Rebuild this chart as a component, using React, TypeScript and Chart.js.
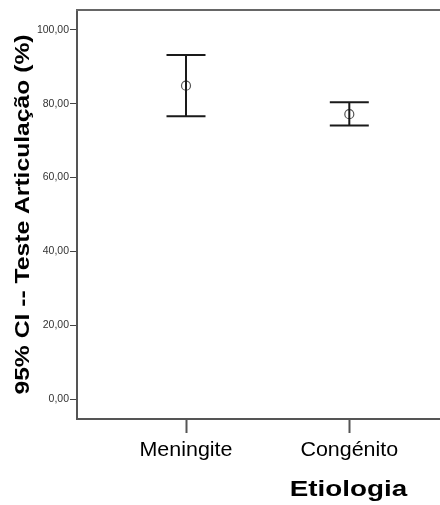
import React, { useEffect, useRef } from "react";
import { Chart, registerables } from "chart.js";

Chart.register(...registerables);

const categories = ["Meningite", "Congénito"];
const means = [84.9, 77.2];
const lowerCI = [76.6, 74.1];
const upperCI = [93.2, 80.4];
const yTicks = [0, 20, 40, 60, 80, 100];
const yTitle = "95% CI -- Teste Articulação (%)";
const xTitle = "Etiologia";

const FONT = "'Liberation Sans', Arial, sans-serif";

function drawStretched(
  ctx: CanvasRenderingContext2D,
  text: string,
  x: number,
  y: number,
  font: string,
  sx: number,
  rotate = 0,
  baseline: CanvasTextBaseline = "alphabetic"
) {
  ctx.save();
  ctx.translate(x, y);
  if (rotate) ctx.rotate(rotate);
  ctx.scale(sx, 1);
  ctx.font = font;
  ctx.textAlign = "center";
  ctx.textBaseline = baseline;
  ctx.fillText(text, 0, 0);
  ctx.restore();
}

const errorBarPlugin = {
  id: "errorBars",
  afterDatasetsDraw(chart: any) {
    const { ctx, scales } = chart;
    const xs = scales.x;
    const ys = scales.y;
    ctx.save();
    ctx.strokeStyle = "#1a1a1a";
    ctx.lineWidth = 2;
    categories.forEach((_, i) => {
      const px = xs.getPixelForValue(i);
      const yu = ys.getPixelForValue(upperCI[i]);
      const yl = ys.getPixelForValue(lowerCI[i]);
      const half = 19.5;
      ctx.beginPath();
      ctx.moveTo(px, yu);
      ctx.lineTo(px, yl);
      ctx.moveTo(px - half, yu);
      ctx.lineTo(px + half, yu);
      ctx.moveTo(px - half, yl);
      ctx.lineTo(px + half, yl);
      ctx.stroke();
    });
    ctx.restore();
  },
};

const framePlugin = {
  id: "frameAndTitles",
  afterDraw(chart: any) {
    const { ctx, chartArea, scales } = chart;
    ctx.save();
    ctx.strokeStyle = "#666";
    ctx.lineWidth = 2;
    ctx.beginPath();
    ctx.moveTo(chartArea.left - 1, chartArea.top);
    ctx.lineTo(chartArea.right, chartArea.top);
    ctx.stroke();

    ctx.fillStyle = "#000";
    categories.forEach((c, i) => {
      const px = scales.x.getPixelForValue(i);
      drawStretched(ctx, c, px, 456, `19.5px ${FONT}`, 1.1);
    });
    drawStretched(
      ctx,
      yTitle,
      23,
      (chartArea.top + chartArea.bottom) / 2,
      `bold 21px ${FONT}`,
      1.175,
      -Math.PI / 2,
      "middle"
    );
    drawStretched(ctx, xTitle, 348.5, 496, `bold 21.4px ${FONT}`, 1.3);
    ctx.restore();
  },
};

export default function App() {
  const ref = useRef<HTMLCanvasElement>(null);

  useEffect(() => {
    if (!ref.current) return;
    const chart = new Chart(ref.current, {
      type: "scatter",
      data: {
        datasets: [
          {
            data: means.map((m, i) => ({ x: i, y: m })),
            pointRadius: 4.5,
            pointHoverRadius: 4.5,
            pointBorderColor: "#555",
            pointBackgroundColor: "rgba(255,255,255,0)",
            pointBorderWidth: 1.2,
          },
        ],
      },
      options: {
        responsive: false,
        animation: false,
        layout: { autoPadding: false, padding: { top: 10, right: 0, left: 0, bottom: 0 } },
        plugins: {
          legend: { display: false },
          tooltip: { enabled: false },
        },
        scales: {
          x: {
            type: "linear",
            min: -0.6675,
            max: 1.5554,
            afterFit: (s: any) => {
              s.height = 86;
              s.paddingLeft = 0;
              s.paddingRight = 0;
            },
            afterBuildTicks: (s: any) => {
              s.ticks = categories.map((_, i) => ({ value: i }));
            },
            ticks: {
              display: false,
              autoSkip: false,
            },
            grid: {
              drawOnChartArea: false,
              drawTicks: true,
              tickLength: 14,
              tickColor: "#555",
              tickWidth: 2,
            },
            border: { display: true, color: "#555", width: 2 },
          },
          y: {
            min: -5.42,
            max: 105.42,
            afterFit: (s: any) => {
              s.width = 77;
              s.paddingTop = 0;
              s.paddingBottom = 0;
            },
            afterBuildTicks: (s: any) => {
              s.ticks = yTicks.map((v) => ({ value: v }));
            },
            ticks: {
              callback: (v: any) => Number(v).toFixed(2).replace(".", ","),
              color: "#333",
              font: { family: FONT, size: 10.5 },
              padding: 1,
            },
            grid: {
              drawOnChartArea: false,
              drawTicks: true,
              tickLength: 7,
              tickColor: "#444",
              tickWidth: 1,
            },
            border: { display: true, color: "#555", width: 2 },
          },
        },
      },
      plugins: [errorBarPlugin, framePlugin],
    });
    return () => chart.destroy();
  }, []);

  return (
    <div style={{ position: "absolute", left: 0, top: 0, width: 440, height: 505, background: "#fff" }}>
      <canvas ref={ref} width={440} height={505} style={{ display: "block" }} />
    </div>
  );
}
